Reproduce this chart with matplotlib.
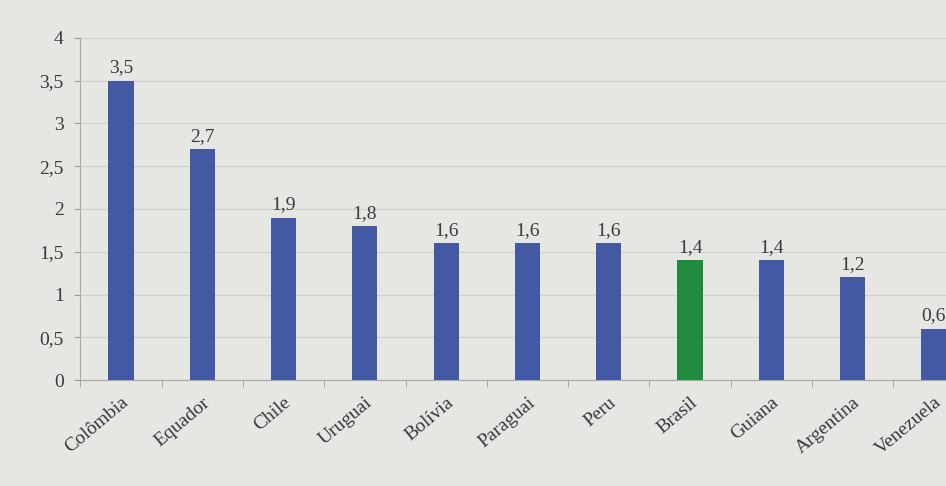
"""Colunas por país da América do Sul, com o Brasil em destaque."""

import matplotlib.pyplot as plt
from matplotlib.ticker import FixedLocator, FuncFormatter

# países no eixo x
paises = ["Colômbia", "Equador", "Chile", "Uruguai", "Bolívia", "Paraguai",
          "Peru", "Brasil", "Guiana", "Argentina", "Venezuela"]

# valores das colunas
valores = [3.5, 2.7, 1.9, 1.8, 1.6, 1.6, 1.6, 1.4, 1.4, 1.2, 0.6]

# país destacado
destaque = "Brasil"

azul = "#4359a4"
verde = "#1f8b3f"
fundo = "#e6e6e3"
texto = "#3a3a3a"

plt.rcParams["font.family"] = ["Liberation Serif", "DejaVu Serif"]

fig = plt.figure(figsize=(9.46, 4.86), dpi=100, facecolor=fundo)
ax = fig.add_axes([0.085, 0.218, 0.915, 0.704], facecolor=fundo)

cores = [verde if p == destaque else azul for p in paises]
x = range(len(paises))
barras = ax.bar(x, valores, width=0.31, color=cores, zorder=3)

# rótulos com vírgula decimal
for b, v in zip(barras, valores):
    ax.text(b.get_x() + b.get_width() / 2, v + 0.05,
            f"{v:.1f}".replace(".", ","), ha="center", va="bottom",
            fontsize=14, color=texto, clip_on=False)

ax.set_xlim(-0.5, 10.15)
ax.set_ylim(0, 4)

# grade horizontal
ax.set_yticks([i * 0.5 for i in range(9)])
ax.yaxis.set_major_formatter(
    FuncFormatter(lambda v, _: f"{v:g}".replace(".", ",")))
ax.grid(axis="y", color="#cfcfcc", linewidth=0.9, zorder=0)
ax.tick_params(axis="y", labelsize=14, colors=texto, length=4,
               color="#9a9a9a", pad=8)

# marcas do eixo x entre as categorias
ax.set_xticks(list(x))
ax.set_xticklabels(paises, rotation=40, ha="right", rotation_mode="anchor",
                   fontsize=14, color=texto)
ax.tick_params(axis="x", length=0, pad=10)
ax.xaxis.set_minor_locator(FixedLocator([i - 0.5 for i in range(len(paises) + 1)]))
ax.tick_params(axis="x", which="minor", length=5, color="#9a9a9a")

for lado in ["top", "right"]:
    ax.spines[lado].set_visible(False)
ax.spines["left"].set_color("#a8a8a8")
ax.spines["bottom"].set_color("#a8a8a8")

fig.savefig("out.png", dpi=100, facecolor=fundo)
